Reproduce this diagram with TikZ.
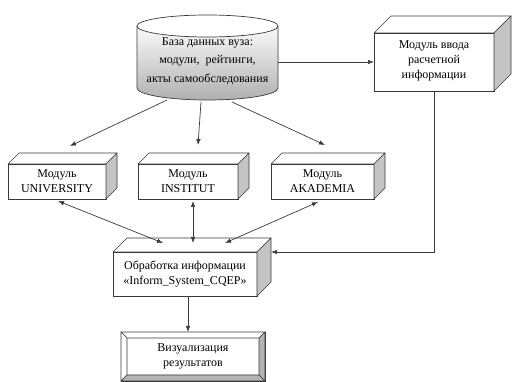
\documentclass[tikz,border=0pt]{standalone}
\usepackage{fontspec}
\setmainfont{Liberation Serif}
\usetikzlibrary{arrows.meta,calc}
\definecolor{edge}{HTML}{3A3A3A}
\definecolor{sideface}{HTML}{C4C4C4}
\definecolor{bevelgray}{HTML}{B4B4B4}
\begin{document}
\begin{tikzpicture}[x=1pt,y=1pt,
  every node/.style={font=\rmfamily\fontsize{12}{15}\selectfont, align=center, text=black},
  front/.style={draw=edge, fill=white, line width=0.7pt, inner sep=0pt, outer sep=0pt},
  face/.style={draw=edge, line width=0.7pt, line join=round},
  link/.style={draw=edge, line width=0.7pt, -{Latex[length=6pt,width=4.5pt]}},
  bilink/.style={draw=edge, line width=0.7pt, {Latex[length=6pt,width=4.5pt]}-{Latex[length=6pt,width=4.5pt]}}
]
\useasboundingbox (0,0) rectangle (512,-382);

% database cylinder
\shade[top color=gray!4, bottom color=gray!62]
  (137,-26) -- (137,-88) arc[start angle=180, end angle=360, x radius=70.5, y radius=12]
  -- (278,-26) -- cycle;
\draw[face] (137,-26) -- (137,-88) arc[start angle=180, end angle=360, x radius=70.5, y radius=12]
  -- (278,-26);
\filldraw[face, fill=white] (207.5,-26) ellipse[x radius=70.5, y radius=11];
\node[inner sep=0pt, outer sep=0pt, minimum width=141, minimum height=50,
      font=\rmfamily\fontsize{12}{18.5}\selectfont] (db) at (207.5,-61)
  {База данных вуза:\\модули,~ рейтинги,\\акты самообследования};
\coordinate (dbA) at (167,-100);
\coordinate (dbB) at (201,-102);
\coordinate (dbC) at (232,-102);

% front faces of the boxes
\node[front, minimum width=98, minimum height=35] (univ) at (57,-181.5) {Модуль\\UNIVERSITY};
\node[front, minimum width=100, minimum height=35] (inst) at (188,-181.5) {Модуль\\INSTITUT};
\node[front, minimum width=103, minimum height=35] (akad) at (322.5,-181.5) {Модуль\\AKADEMIA};
\node[front, minimum width=120, minimum height=58, text depth=4pt] (vvod) at (434,-62) {Модуль ввода\\расчетной\\информации};
\node[front, minimum width=144, minimum height=44] (obr) at (185,-274)
  {Обработка информации\\«Inform\_System\_CQEP»};

% top and side faces
\foreach \n/\d in {univ/11,inst/11,akad/11,vvod/17,obr/14}{
  \filldraw[face, fill=white] (\n.north west) -- ++(\d,\d) -- ($(\n.north east)+(\d,\d)$)
    -- (\n.north east) -- cycle;
  \filldraw[face, fill=sideface] (\n.north east) -- ++(\d,\d) -- ($(\n.south east)+(\d,\d)$)
    -- (\n.south east) -- cycle;
}

% bevelled result box
\node[front, minimum width=144, minimum height=49] (viz) at (193,-356.5) {};
\coordinate (vizI1) at ($(viz.north west)+(6,-6)$);
\coordinate (vizI2) at ($(viz.north east)+(-6,-6)$);
\coordinate (vizI3) at ($(viz.south east)+(-6,6)$);
\coordinate (vizI4) at ($(viz.south west)+(6,6)$);
\filldraw[face, fill=white] (viz.north west) -- (viz.north east) -- (vizI2) -- (vizI1) -- cycle;
\filldraw[face, fill=white] (viz.north west) -- (vizI1) -- (vizI4) -- (viz.south west) -- cycle;
\filldraw[face, fill=bevelgray] (viz.north east) -- (viz.south east) -- (vizI3) -- (vizI2) -- cycle;
\filldraw[face, fill=bevelgray] (viz.south west) -- (vizI4) -- (vizI3) -- (viz.south east) -- cycle;
\node (viztext) at (viz.center) {Визуализация\\результатов};

% arrow end points
\coordinate (univT) at (70,-146);
\coordinate (instT) at (198,-145);
\coordinate (akadT) at (325,-145);
\coordinate (univB) at (58,-201);
\coordinate (instB) at (193,-201);
\coordinate (akadB) at (318,-202);
\coordinate (obrA) at (163,-243);
\coordinate (obrB) at (193,-243);
\coordinate (obrC) at (225,-243);
\coordinate (obrSide) at ($(obr.north east)+(14,0)$);
\coordinate (obrOut) at (188,-296);

% connectors
\draw[link] (dbA) -- (univT);
\draw[link] (dbB) -- (instT);
\draw[link] (dbC) -- (akadT);
\draw[link] (db.east |- vvod.west) -- (vvod.west);
\draw[bilink] (univB) -- (obrA);
\draw[bilink] (instB) -- (obrB);
\draw[bilink] (akadB) -- (obrC);
\draw[link] (vvod.south) |- (obrSide);
\draw[link] (obrOut) -- (obrOut |- viz.north);
\end{tikzpicture}
\end{document}
